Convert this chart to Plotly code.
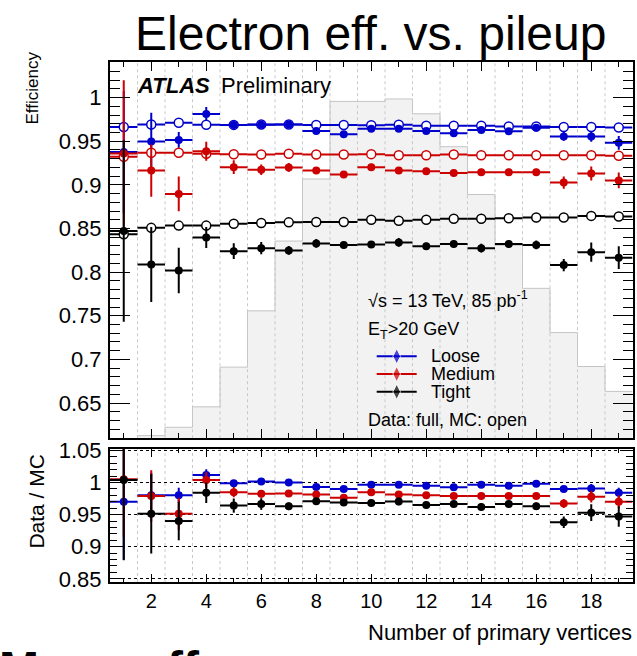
import plotly.graph_objects as go

W, H = 637, 656

# ---------------- data ----------------
n_vertices = list(range(1, 20))

eff_ticks = [0.65, 0.70, 0.75, 0.80, 0.85, 0.90, 0.95, 1.00]
eff_tick_labels = ["0.65", "0.7", "0.75", "0.8", "0.85", "0.9", "0.95", "1"]
ratio_ticks = [0.85, 0.90, 0.95, 1.00, 1.05]
ratio_tick_labels = ["0.85", "0.9", "0.95", "1", "1.05"]

# MC pile-up distribution (arbitrary scale, drawn on the efficiency axis)
mc_pileup_shape = [0.600, 0.6126, 0.6222, 0.6456, 0.6911, 0.7556, 0.8356, 0.9067, 0.9956,
                   0.9956, 0.9984, 0.9814, 0.9437, 0.8889, 0.8307, 0.7814, 0.7307, 0.6918, 0.6633]

mc_loose = [0.9663, 0.9692, 0.9711, 0.9688, 0.9687, 0.9692, 0.9692, 0.9687, 0.9685, 0.9683,
            0.9688, 0.9678, 0.9677, 0.9677, 0.9670, 0.9670, 0.9663, 0.9663, 0.9657]
data_loose = [0.9375, 0.9497, 0.9515, 0.9811, 0.9687, 0.9688, 0.9692, 0.9617, 0.9581, 0.9644,
              0.9644, 0.9617, 0.9592, 0.9629, 0.9614, 0.9655, 0.9555, 0.9555, 0.9481]
err_loose = [0.07, 0.033, 0.009, 0.008, 0.004, 0.003, 0.003, 0.003, 0.003, 0.003,
             0.003, 0.003, 0.003, 0.003, 0.003, 0.003, 0.005, 0.006, 0.008]

mc_medium = [0.9322, 0.9367, 0.9367, 0.9357, 0.9351, 0.9348, 0.9357, 0.9347, 0.9347, 0.9352,
             0.9340, 0.9340, 0.9347, 0.9340, 0.9340, 0.9340, 0.9340, 0.9340, 0.9333]
data_medium = [0.9359, 0.9163, 0.8896, 0.9385, 0.9203, 0.9174, 0.9200, 0.9163, 0.9118, 0.9203,
               0.9163, 0.9155, 0.9137, 0.9144, 0.9144, 0.9144, 0.9026, 0.9129, 0.9051]
err_medium = [0.084, 0.030, 0.020, 0.011, 0.008, 0.006, 0.005, 0.004, 0.004, 0.004,
              0.004, 0.004, 0.004, 0.004, 0.004, 0.004, 0.007, 0.008, 0.009]

mc_tight = [0.8433, 0.8507, 0.8533, 0.8533, 0.8555, 0.8563, 0.8570, 0.8574, 0.8574, 0.8600,
            0.8588, 0.8600, 0.8611, 0.8611, 0.8618, 0.8626, 0.8626, 0.8644, 0.8637]
data_tight = [0.8470, 0.8088, 0.8018, 0.8396, 0.8240, 0.8274, 0.8248, 0.8329, 0.8311, 0.8315,
              0.8340, 0.8296, 0.8322, 0.8274, 0.8322, 0.8311, 0.8081, 0.8229, 0.8166]
err_tight = [0.104, 0.043, 0.026, 0.012, 0.009, 0.007, 0.005, 0.005, 0.004, 0.004,
             0.005, 0.004, 0.004, 0.005, 0.004, 0.005, 0.007, 0.011, 0.013]

ratio_loose = [0.970, 0.980, 0.980, 1.0116, 0.999, 1.0015, 1.000, 0.993, 0.990, 0.9965,
               0.9965, 0.995, 0.9925, 0.9965, 0.995, 0.998, 0.990, 0.9905, 0.984]
ratio_err_loose = [0.09, 0.035, 0.012, 0.009, 0.004, 0.004, 0.004, 0.004, 0.004, 0.004,
                   0.004, 0.004, 0.004, 0.004, 0.004, 0.004, 0.005, 0.007, 0.008]
ratio_medium = [1.005, 0.979, 0.9514, 1.004, 0.985, 0.9825, 0.983, 0.9815, 0.9764, 0.985,
                0.9815, 0.980, 0.979, 0.979, 0.979, 0.979, 0.9674, 0.978, 0.970]
ratio_err_medium = [0.09, 0.040, 0.025, 0.012, 0.008, 0.006, 0.005, 0.005, 0.005, 0.005,
                    0.005, 0.005, 0.005, 0.005, 0.005, 0.005, 0.007, 0.009, 0.010]
ratio_tight = [1.004, 0.9514, 0.940, 0.984, 0.964, 0.9664, 0.963, 0.971, 0.969, 0.968,
               0.9705, 0.965, 0.9664, 0.962, 0.9664, 0.963, 0.938, 0.953, 0.947]
ratio_err_tight = [0.125, 0.062, 0.030, 0.016, 0.011, 0.009, 0.006, 0.006, 0.005, 0.005,
                   0.006, 0.005, 0.005, 0.006, 0.005, 0.006, 0.009, 0.013, 0.016]

series_names = ["Loose", "Medium", "Tight"]
series_colors = ["#0000cc", "#cc0000", "#000000"]

# ---------------- geometry ----------------
X0, X1 = 110.0, 632.5
UP_TOP, UP_BOT = 52.3, 440.7
LO_TOP, LO_BOT = 451.5, 589.0
X_RANGE = [0.5, 19.5]
EFF_RANGE = [0.6096, 1.0411]
RATIO_RANGE = [0.845, 1.0526]
FONT = "Liberation Sans, Arial, Helvetica, sans-serif"


def px_x(p):
    return p / W


def px_y(p):
    return 1 - p / H


def data_x(p):
    return X_RANGE[0] + (p - X0) / (X1 - X0) * (X_RANGE[1] - X_RANGE[0])


def data_y_up(p):
    return EFF_RANGE[1] - (p - UP_TOP) / (UP_BOT - UP_TOP) * (EFF_RANGE[1] - EFF_RANGE[0])


fig = go.Figure()

# MC pile-up histogram (step outline, light fill)
edges = [v - 0.5 for v in n_vertices] + [n_vertices[-1] + 0.5]
fig.add_trace(go.Scatter(
    x=edges, y=mc_pileup_shape + [mc_pileup_shape[-1]], mode="lines", line_shape="hv",
    fill="tozeroy", fillcolor="#f2f2f2", line=dict(color="#c4c4c4", width=1),
    hoverinfo="skip", xaxis="x", yaxis="y"))

# dashed bin-edge grid lines
inner_edges = [v + 0.5 for v in n_vertices[:-1]]
for yax, rng in (("y", EFF_RANGE), ("y2", RATIO_RANGE)):
    gx, gy = [], []
    for e in inner_edges:
        gx += [e, e, None]
        gy += [rng[0], rng[1], None]
    fig.add_trace(go.Scatter(
        x=gx, y=gy, mode="lines", line=dict(color="#c8c8c8", width=1, dash="3px,3px"),
        hoverinfo="skip", xaxis="x" if yax == "y" else "x2", yaxis=yax))

half = [0.5] * len(n_vertices)
effs = [(mc_loose, data_loose, err_loose), (mc_medium, data_medium, err_medium),
        (mc_tight, data_tight, err_tight)]
for (mc, dat, err), col in zip(effs, series_colors):
    fig.add_trace(go.Scatter(
        x=n_vertices, y=mc, mode="markers",
        marker=dict(symbol="circle", size=9, color="white", line=dict(color=col, width=1.5)),
        error_x=dict(type="data", array=half, color=col, thickness=2, width=0),
        xaxis="x", yaxis="y"))
    fig.add_trace(go.Scatter(
        x=n_vertices, y=dat, mode="markers",
        marker=dict(symbol="circle", size=8, color=col),
        error_x=dict(type="data", array=half, color=col, thickness=2, width=0),
        error_y=dict(type="data", array=err, color=col, thickness=2, width=0),
        xaxis="x", yaxis="y"))

ratios = [(ratio_loose, ratio_err_loose), (ratio_medium, ratio_err_medium),
          (ratio_tight, ratio_err_tight)]
for (r, re), col in zip(ratios, series_colors):
    fig.add_trace(go.Scatter(
        x=n_vertices, y=r, mode="markers",
        marker=dict(symbol="circle", size=8, color=col),
        error_x=dict(type="data", array=half, color=col, thickness=2, width=0),
        error_y=dict(type="data", array=re, color=col, thickness=2, width=0),
        xaxis="x2", yaxis="y2"))

# legend samples (drawn inside the upper pad)
leg_rows = [356.2, 374.5, 392.8]
for name, col, row in zip(series_names, series_colors, leg_rows):
    yv = data_y_up(row)
    fig.add_trace(go.Scatter(
        x=[data_x(376.7), data_x(396.7), data_x(416.7)], y=[yv, yv, yv],
        mode="lines+markers", line=dict(color=col, width=2),
        marker=dict(symbol="diamond-tall", size=[0, 11, 0], color=col),
        xaxis="x", yaxis="y"))

axis_common = dict(showline=True, linecolor="black", linewidth=2, mirror="allticks",
                   ticks="inside", tickcolor="black", zeroline=False, showgrid=False,
                   fixedrange=True)

dom_x = [px_x(X0), px_x(X1)]
fig.update_layout(
    width=W, height=H, margin=dict(l=0, r=0, t=0, b=0),
    paper_bgcolor="white", plot_bgcolor="white", showlegend=False,
    font=dict(family=FONT, color="black"),
    xaxis=dict(domain=dom_x, range=X_RANGE, anchor="y", showticklabels=False,
               tick0=0, dtick=2, ticklen=9, tickwidth=1,
               minor=dict(ticks="inside", tick0=0, dtick=1, ticklen=5, tickcolor="black"),
               **axis_common),
    yaxis=dict(domain=[px_y(UP_BOT), px_y(UP_TOP)], range=EFF_RANGE, anchor="x",
               tickmode="array", tickvals=eff_ticks, ticktext=eff_tick_labels,
               tickfont=dict(size=22), ticklen=20, tickwidth=1, ticklabelstandoff=2,
               minor=dict(ticks="inside", tick0=0, dtick=0.01, ticklen=10, tickcolor="black"),
               **axis_common),
    xaxis2=dict(domain=dom_x, range=X_RANGE, anchor="y2",
                tick0=0, dtick=2, ticklen=8, tickwidth=1, tickfont=dict(size=20),
                minor=dict(ticks="inside", tick0=0, dtick=1, ticklen=4, tickcolor="black"),
                **axis_common),
    yaxis2=dict(domain=[px_y(LO_BOT), px_y(LO_TOP)], range=RATIO_RANGE, anchor="x2",
                tickmode="array", tickvals=ratio_ticks, ticktext=ratio_tick_labels,
                tickfont=dict(size=22), ticklen=13, tickwidth=1, ticklabelstandoff=2,
                minor=dict(ticks="inside", tick0=0, dtick=0.01, ticklen=7, tickcolor="black"),
                **{k: v for k, v in axis_common.items() if k != "showgrid"},
                showgrid=True, gridcolor="black", griddash="dot", gridwidth=1),
)


def ann(text, x, y, size, xanchor="left", angle=0, **kw):
    fig.add_annotation(text=text, x=px_x(x), y=px_y(y), xref="paper", yref="paper",
                       xanchor=xanchor, yanchor="middle", showarrow=False, textangle=angle,
                       font=dict(size=size, family=FONT, color="black"), **kw)


ann("Electron eff. vs. pileup", 370, 23, 48, xanchor="center")
ann("<b><i>ATLAS</i></b>", 135, 76.7, 22)
ann("Preliminary", 219, 76.7, 22)
ann("\u221as = 13 TeV, 85 pb<sup>-1</sup>", 366, 298, 18)
ann("E<sub>T</sub>&gt;20 GeV", 366, 330, 18)
for name, row in zip(series_names, leg_rows):
    ann(name, 429, row, 18)
ann("Data: full, MC: open", 366, 422, 18)
ann("Efficiency", 33, 80, 17, xanchor="center", angle=-90)
ann("Data / MC", 36.5, 505.5, 21, xanchor="center", angle=-90)
ann("Number of primary vertices", 634, 640.8, 22, xanchor="right")
ann("<b>Muon eff.</b>", -3, 678, 48)

fig.write_html("out.html")
